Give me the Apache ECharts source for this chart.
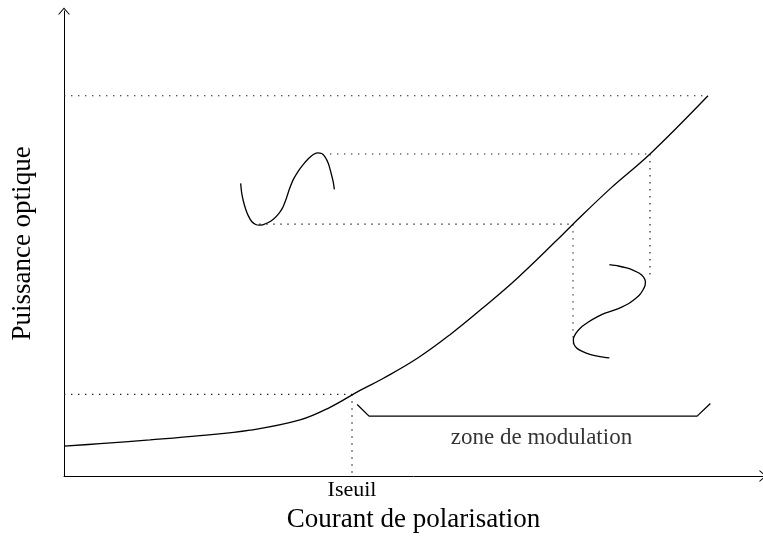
<!DOCTYPE html>
<html><head><meta charset="utf-8">
<script src="https://cdn.jsdelivr.net/npm/echarts@6/dist/echarts.min.js"></script>
<style>html,body{margin:0;padding:0;background:#fff}#c{width:763px;height:538px}</style>
</head><body><div id="c"></div>
<script>
// P-I characteristic of a laser diode (arbitrary units)
const curve = [[0,6.38],[5.16,6.91],[12.32,7.72],[19.48,8.62],[26.65,9.79],[33.81,11.98],[38.11,14.68],[42.41,18.30],[45.70,20.85],[50.57,25.11],[55.30,30.21],[60.03,35.96],[64.90,42.23],[70.63,50.43],[72.92,53.83],[78.22,61.38],[83.95,68.83],[92.26,81.28]];
// optical output modulation (upper-left sine)
const outWave = [[25.31,62.55],[25.45,60.57],[25.69,58.79],[26.03,57.02],[26.41,55.60],[26.89,54.40],[27.46,53.76],[27.98,53.62],[28.56,53.76],[29.27,54.18],[29.99,54.89],[30.71,55.96],[31.33,57.37],[31.81,59.15],[32.28,61.28],[32.86,63.40],[33.57,65.18],[34.29,66.60],[35.00,67.80],[35.72,68.72],[36.29,69.08],[36.92,68.94],[37.39,68.23],[37.87,66.81],[38.25,64.82],[38.59,62.70],[38.73,61.28]];
// current modulation (rotated sine)
const inWave = [[78.13,45.18],[79.42,44.89],[80.61,44.47],[81.57,43.97],[82.43,43.33],[83.00,42.55],[83.29,41.63],[83.24,40.71],[82.90,39.65],[82.38,38.58],[81.66,37.66],[80.85,36.81],[79.90,36.10],[78.70,35.39],[77.51,34.82],[76.31,33.97],[75.12,32.91],[74.02,31.70],[73.30,30.43],[72.97,29.22],[73.07,28.09],[73.54,27.23],[74.40,26.52],[75.45,25.96],[76.79,25.53],[78.13,25.25]];
// guide lines
const guideMax = [[0,81.28],[92.26,81.28]];
const guideThH = [[0,17.45],[41.26,17.45]];
const guideThV = [[41.26,17.45],[41.26,0]];
const guideHiH = [[38.1,68.83],[83.95,68.83]];
const guideHiV = [[83.95,68.83],[83.95,41.9]];
const guideLoH = [[27.98,53.83],[72.92,53.83]];
const guideLoV = [[72.92,53.83],[72.92,28.3]];
// modulation zone bracket
const bracket = [[42.0,15.3],[43.7,12.8],[90.7,12.8],[92.6,15.5]];
const zoneLabel = [[68.4,8.1,'zone de modulation']];
const thresholdX = 41.26;
const xName = 'Courant de polarisation', yName = 'Puissance optique', thName = 'Iseuil';

const FONT = 'Liberation Serif';
const arrow = 'path://M0,70 L60,0 L120,70 L108,70 L60,14 L12,70 Z';
const chart = echarts.init(document.getElementById('c'), null, {renderer:'canvas'});
const dotted = {color:'#222', width:1.2, type:[1.4,5.6]};
function seg(d, style){ return {type:'line', data:d, showSymbol:false, symbol:'none', lineStyle:style, silent:true, z:2}; }
chart.setOption({
  animation:false,
  backgroundColor:'#fff',
  grid:{left:64, right:0, top:11, bottom:60, containLabel:false},
  xAxis:{type:'value', min:0, max:100.14,
    name:xName, nameLocation:'middle', nameGap:30,
    nameTextStyle:{fontFamily:FONT, fontSize:27, color:'#000'},
    axisLine:{show:true, lineStyle:{color:'#000', width:1}, symbol:['none',arrow], symbolSize:[12,7]},
    axisTick:{show:false}, splitLine:{show:false},
    axisLabel:{show:true, customValues:[thresholdX], formatter:()=>thName, fontFamily:FONT, fontSize:22, color:'#000', margin:3}
  },
  yAxis:{type:'value', min:0, max:99.4,
    name:yName, nameLocation:'middle', nameGap:28, nameRotate:90,
    nameTextStyle:{fontFamily:FONT, fontSize:27, color:'#000'},
    axisLine:{show:true, lineStyle:{color:'#000', width:1}, symbol:['none',arrow], symbolSize:[12,7]},
    axisTick:{show:false}, splitLine:{show:false}, axisLabel:{show:false}
  },
  series:[
    seg(guideMax,dotted), seg(guideThH,dotted), seg(guideThV,dotted),
    seg(guideHiH,dotted), seg(guideHiV,dotted), seg(guideLoH,dotted), seg(guideLoV,dotted),
    Object.assign(seg(curve,{color:'#000', width:1.3}), {smooth:0.4, z:3}),
    Object.assign(seg(outWave,{color:'#000', width:1.3}), {smooth:0.25, z:3}),
    Object.assign(seg(inWave,{color:'#000', width:1.3}), {smooth:0.25, z:3}),
    seg(bracket,{color:'#000', width:1.3}),
    {type:'scatter', data:zoneLabel, symbolSize:0, silent:true,
     label:{show:true, position:'inside', formatter:p=>p.data[2], fontFamily:FONT, fontSize:23, color:'#000'}}
  ]
});
</script></body></html>
